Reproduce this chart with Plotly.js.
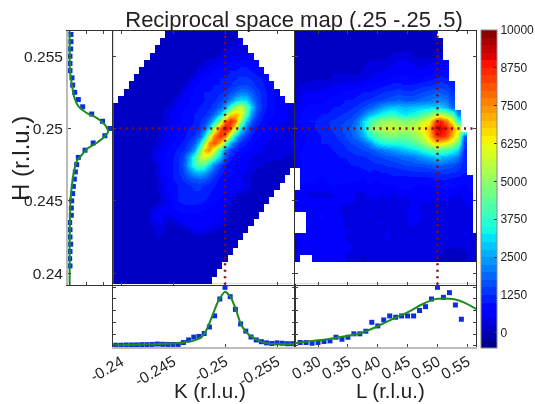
<!DOCTYPE html>
<html><head><meta charset="utf-8">
<script src="https://cdn.plot.ly/plotly-3.0.1.min.js"></script>
<style>html,body{margin:0;padding:0;background:#fff}#plot{width:535px;height:404px;filter:blur(0.45px)}</style>
</head><body><div id="plot"></div>
<script>
const _ = null;
const kValues = [-0.2395,-0.2400,-0.2405,-0.2410,-0.2415,-0.2420,-0.2425,-0.2430,-0.2435,-0.2440,-0.2445,-0.2450,-0.2455,-0.2460,-0.2465,-0.2470,-0.2475,-0.2480,-0.2485,-0.2490,-0.2495,-0.2500,-0.2505,-0.2510,-0.2515,-0.2520,-0.2525,-0.2530,-0.2535,-0.2540,-0.2545,-0.2550,-0.2555,-0.2560,-0.2565];
const hValues = [0.2565,0.2560,0.2555,0.2550,0.2545,0.2540,0.2535,0.2530,0.2525,0.2520,0.2515,0.2510,0.2505,0.2500,0.2495,0.2490,0.2485,0.2480,0.2475,0.2470,0.2465,0.2460,0.2455,0.2450,0.2445,0.2440,0.2435,0.2430,0.2425,0.2420,0.2415,0.2410,0.2405,0.2400,0.2395];
const lValues = [0.265,0.275,0.285,0.295,0.305,0.315,0.325,0.335,0.345,0.355,0.365,0.375,0.385,0.395,0.405,0.415,0.425,0.435,0.445,0.455,0.465,0.475,0.485,0.495,0.505,0.515,0.525,0.535,0.545,0.555,0.565];

// Intensity read from the map, in hundreds of counts; _ marks cells that were not measured
const hkMap = [
[_,_,_,_,_,_,_,_,_,_,1,1,1,1,1,1,1,1,1,1,2,2,2,2],
[_,_,_,_,_,_,_,_,_,1,1,1,0,0,1,1,1,1,1,1,2,2,2,3,3],
[_,_,_,_,_,_,_,_,1,1,1,1,1,1,1,1,1,1,2,2,2,3,3,4,4,4],
[_,_,_,_,_,_,_,1,1,1,1,1,1,1,1,1,1,1,2,2,3,4,5,5,6,6,6],
[_,_,_,_,_,_,1,1,1,1,1,1,1,1,1,1,2,3,4,5,6,7,8,8,9,9,8,7],
[_,_,_,_,_,1,1,1,1,1,1,1,1,1,1,2,4,6,7,8,8,9,10,10,11,11,10,9,8],
[_,_,_,_,1,1,1,1,1,1,1,1,1,1,2,5,7,8,8,9,10,10,11,12,13,13,12,11,10,8],
[_,_,_,1,1,1,1,1,1,1,1,1,1,2,5,7,8,9,9,10,10,11,12,14,15,15,14,12,11,9,8],
[_,_,1,1,1,1,1,1,1,1,1,1,2,5,6,8,9,10,10,11,12,13,15,18,20,20,17,14,12,10,8,7],
[_,1,1,1,1,1,1,1,1,1,1,3,5,6,7,9,9,10,11,12,14,17,21,28,32,30,22,16,12,10,8,7,6],
[1,1,1,1,1,1,1,1,1,1,3,5,6,7,8,9,10,11,12,14,18,25,38,52,58,45,30,18,13,10,8,7,6,5,4],
[1,1,1,1,1,1,1,1,1,3,5,6,7,8,9,10,11,12,14,19,28,45,65,70,64,42,24,15,11,9,8,7,6,5,4],
[1,1,1,1,1,1,1,1,1,2,4,6,7,8,9,10,12,14,20,32,52,78,88,78,52,28,17,12,10,8,7,6,5,5,4],
[1,1,1,1,1,1,1,1,2,4,6,7,8,9,10,11,13,18,30,55,80,92,82,58,34,20,13,10,8,7,6,5,4,4,4],
[1,1,1,1,1,1,1,1,2,4,6,7,8,9,11,13,17,30,55,78,86,78,52,30,19,13,10,8,7,6,5,3,3,4,5],
[1,1,1,1,1,1,1,2,3,5,7,8,9,11,13,17,28,52,76,82,70,44,26,17,12,10,8,7,6,5,3,3,4,5,6],
[1,1,1,1,1,1,1,3,5,6,8,9,11,12,15,24,44,70,74,58,36,21,14,11,9,8,7,6,5,4,3,3,4,4,4],
[1,1,1,1,1,1,1,3,6,7,9,10,12,15,24,38,54,60,54,40,28,16,11,8,7,6,5,4,3,3,3,3,3,2,2],
[1,1,1,1,1,1,1,1,4,7,9,10,12,16,26,38,44,40,30,20,14,10,8,7,6,5,4,3,3,2,2,1,1,1,2],
[1,1,1,1,1,1,1,1,4,7,9,10,12,15,20,26,28,26,20,15,11,9,8,7,6,5,3,2,1,1,1,1,1,1],
[1,1,1,1,1,1,1,1,3,6,8,10,11,13,15,17,18,17,14,11,9,8,7,6,5,3,2,1,1,1,1,1,1],
[1,1,1,1,1,1,1,1,2,5,8,9,10,11,12,13,13,12,11,10,9,8,7,6,6,5,2,1,1,1,1,1],
[1,1,1,1,1,1,1,1,2,4,7,8,10,11,11,12,12,11,10,9,8,7,6,4,2,1,1,1,1,1,1],
[1,1,1,1,1,1,1,1,1,3,6,8,10,11,11,11,11,10,9,8,7,6,3,1,1,1,1,1,1,1],
[1,1,1,1,1,1,1,3,5,6,7,8,8,9,9,9,8,8,7,6,6,5,2,1,1,1,1,1,1],
[1,1,1,1,1,1,2,5,6,5,4,6,7,7,7,7,7,6,6,6,6,4,1,1,1,1,1,1],
[1,1,1,1,1,1,1,4,5,5,2,2,4,6,6,6,6,6,6,6,6,3,1,1,1,1,1],
[1,1,1,1,1,1,1,1,4,3,1,1,1,1,3,5,5,5,4,3,1,1,1,1,1,1],
[1,1,1,1,1,1,1,1,3,2,1,1,1,1,1,1,1,1,1,1,1,1,1,1,1],
[1,1,1,1,1,1,1,1,1,1,1,1,1,1,1,1,1,1,1,1,1,1,1,1],
[1,1,1,1,1,1,1,1,1,1,1,1,1,1,1,1,1,1,1,1,1,1,1],
[1,1,1,1,1,1,1,1,1,1,1,1,1,1,1,1,1,1,1,1,1,1],
[1,1,1,1,1,1,1,1,1,1,1,1,1,1,1,1,1,1,1,1,1],
[1,1,1,1,1,1,1,1,1,1,1,1,1,1,1,1,1,1,1,1],
[1,1,1,1,1,1,1,1,1,1,1,1,1,1,1,1,1,1,1]
];
const hlMap = [
[2,2,2,2,2,2,2,2,2,2,2,2,2,2,2,2,2,2,2,2,2,2,2,2],
[2,2,2,2,2,2,2,2,2,2,2,2,2,2,2,2,2,2,2,2,2,2,2,2,2],
[2,2,2,2,2,2,2,2,2,2,2,2,2,2,2,2,2,2,2,2,2,2,2,2,2],
[2,2,2,2,2,2,2,2,2,2,2,2,2,2,2,2,3,4,4,3,2,2,2,2,3],
[2,2,2,2,2,2,2,2,2,2,2,2,3,3,3,4,5,6,6,5,4,4,5,5,6,6],
[2,2,2,2,2,2,2,2,2,2,2,3,3,4,5,5,6,7,7,7,6,6,6,7,8,8],
[2,2,2,2,2,2,3,4,4,3,3,4,5,6,6,7,8,8,8,7,7,8,9,10,11,10],
[2,3,3,4,4,4,5,5,6,6,6,7,8,8,9,10,11,11,10,10,11,12,12,13,14,13,11],
[3,5,5,5,6,6,7,7,8,8,9,10,10,11,12,13,13,14,13,13,14,15,16,17,17,16,13],
[4,6,7,7,7,8,8,9,10,10,11,12,13,14,15,16,17,18,17,17,18,19,20,21,22,20,15],
[5,7,8,8,8,9,10,10,11,12,13,15,17,20,24,27,28,28,27,28,29,29,30,30,30,26,18],
[6,8,9,9,10,10,11,12,13,14,16,20,26,30,34,36,38,34,32,34,36,42,46,52,54,50,42,22],
[7,9,10,10,11,12,13,14,15,16,20,30,38,44,50,52,52,50,48,50,52,58,62,82,88,78,62,36],
[6,8,9,10,11,12,13,15,16,18,22,30,42,52,54,56,56,54,54,54,58,64,70,90,92,88,78,60],
[5,7,8,9,10,11,12,13,15,17,20,26,34,40,44,46,48,46,46,48,52,58,68,84,88,84,70,56,18],
[5,7,8,9,10,10,11,12,13,15,16,18,22,30,34,36,36,36,38,40,44,50,58,66,66,62,56,44,14],
[6,8,9,9,9,9,10,11,12,13,14,15,16,18,20,22,24,26,28,30,32,36,40,42,42,40,36,30,12],
[7,9,9,8,8,8,9,10,10,11,12,12,13,14,15,16,17,18,19,20,22,24,26,28,28,26,24,20,11],
[6,8,8,8,8,8,8,9,9,10,10,11,11,12,12,13,13,14,15,15,16,16,17,18,18,17,16,14,11],
[_,8,10,9,8,8,8,8,8,9,9,9,10,9,10,10,11,11,11,12,12,12,12,13,13,13,13,12,10],
[_,8,8,8,7,8,8,8,8,9,8,7,9,8,8,9,9,9,9,9,9,9,9,10,10,10,9,9,8,9],
[_,7,7,7,7,7,8,7,7,6,7,6,7,6,7,7,7,8,8,8,7,7,7,8,8,8,8,8,7,8],
[7,6,4,4,4,4,5,5,6,6,4,4,6,6,5,6,4,6,6,6,6,6,6,7,7,7,6,4,6,7],
[7,7,6,6,6,6,5,6,5,6,3,3,4,5,4,4,3,5,3,5,5,5,5,4,5,4,4,4,5,6],
[7,7,7,6,6,6,5,5,4,4,3,3,3,3,3,3,3,3,4,6,6,3,3,3,3,3,3,4,4,5],
[_,_,7,7,8,7,6,5,5,4,3,4,4,3,3,4,3,3,5,7,7,4,3,3,3,3,3,3,3,4],
[_,_,8,6,7,6,6,6,4,4,4,3,4,5,5,5,3,3,3,6,5,3,3,3,3,3,3,3,3,3],
[_,_,7,6,6,6,5,5,5,5,4,4,4,4,4,5,3,3,3,3,3,3,3,3,3,3,3,4,5,3],
[5,6,6,6,6,7,7,6,5,4,4,3,4,3,4,6,4,3,3,3,4,4,3,3,3,3,3,3,5,4,3],
[4,6,7,6,6,7,7,6,6,5,5,4,4,4,4,4,4,3,3,3,3,3,3,3,3,3,3,3,4,3,3],
[5,5,6,6,6,6,6,6,5,5,4,3,3,3,4,4,3,3,3,3,3,3,3,3,3,2,2,2,2,3,3],
[5,_,_,6,6,7,6,5,5,4,3,2,3,3,3,3,3,3,3,3,3,3,3,3,2,2,2,2,2,3,3],
[],[],[]
];

// Line scans
const kScanK = kValues;
const kScanI = [0.05,0.05,0.07,0.07,0.08,0.1,0.1,0.12,0.15,0.13,0.12,0.12,0.12,0.28,0.5,0.74,0.8,1.05,1.6,2.55,3.98,4.97,4.18,3.1,1.86,1.25,0.75,0.5,0.35,0.25,0.2,0.25,0.22,0.18,0.18];
const kFitK = [-0.2392,-0.2443,-0.2462,-0.2472,-0.2478,-0.2483,-0.2488,-0.2493,-0.25,-0.2505,-0.251,-0.2515,-0.252,-0.2525,-0.2531,-0.2538,-0.2551,-0.2567];
const kFitI = [0.05,0.17,0.3,0.5,0.8,1.5,2.6,3.7,4.6,4.2,3.2,1.9,1.2,0.8,0.5,0.25,0.15,0.15];

const lScanL = [0.27,0.28,0.29,0.30,0.31,0.32,0.33,0.34,0.35,0.36,0.37,0.38,0.39,0.40,0.41,0.42,0.43,0.44,0.45,0.46,0.47,0.48,0.49,0.50,0.51,0.52,0.53,0.54];
const lScanI = [0.28,0.28,0.22,0.28,0.37,0.42,0.73,0.56,0.73,1.02,1.02,1.24,2.0,1.69,2.2,2.54,2.43,2.54,2.54,2.54,3.0,3.33,3.98,4.97,4.12,4.52,3.47,2.26];
const lFitL = [0.2614,0.281,0.309,0.343,0.371,0.399,0.427,0.449,0.472,0.494,0.511,0.528,0.545,0.566];
const lFitI = [0.22,0.37,0.51,0.79,1.07,1.64,2.34,2.82,3.47,3.95,4.03,3.95,3.67,3.1];

const hScanH = hValues.slice(0,33);
const hScanI = [0.08,0.08,0.06,0.02,0.02,0.02,0.14,0.18,0.3,0.52,0.78,1.32,1.97,2.41,2.11,1.41,0.92,0.52,0.42,0.34,0.28,0.22,0.18,0.12,0.1,0.1,0,0.02,0.02,0.06,0.02,0,0.02];
const hFitH = [0.25672,0.2551,0.25396,0.25315,0.25223,0.25154,0.25107,0.25073,0.25026,0.2498,0.24946,0.249,0.24865,0.24808,0.24773,0.24704,0.24611,0.2452,0.24381,0.24222,0.2392];
const hFitI = [0,0,0.02,0.12,0.26,0.52,1.02,1.62,2.11,2.31,2.11,1.62,1.11,0.66,0.42,0.26,0.14,0.06,0.02,0,0];

const peakH = 0.25, peakK = -0.25, peakL = 0.5;
const colorbarTicks = [0,1250,2500,3750,5000,6250,7500,8750,10000];
const kTicks = [-0.24,-0.245,-0.25,-0.255];
const kTickText = ['-0.24','-0.245','-0.25','-0.255'];
const lTicks = [0.30,0.35,0.40,0.45,0.50,0.55];
const lTickText = ['0.30','0.35','0.40','0.45','0.50','0.55'];
const hTicks = [0.24,0.245,0.25,0.255];
const hTickText = ['0.24','0.245','0.25','0.255'];

const W = 535, H = 404;
const px = (a,b) => [a/W, b/W];
const py = (t,b) => [1-b/H, 1-t/H];

function jet(t){
  const seg = (pts) => { for(let i=1;i<pts.length;i++){ if(t<=pts[i][0]){ const a=pts[i-1],b=pts[i]; return a[1]+(b[1]-a[1])*(t-a[0])/(b[0]-a[0]); } } return pts[pts.length-1][1]; };
  const r = seg([[0,0],[.35,0],[.66,1],[.89,1],[1,.5]]);
  const g = seg([[0,0],[.125,0],[.375,1],[.64,1],[.91,0],[1,0]]);
  const b = seg([[0,.5],[.11,1],[.34,1],[.65,0],[1,0]]);
  return 'rgb('+Math.round(r*255)+','+Math.round(g*255)+','+Math.round(b*255)+')';
}
const bands = 42, stepped = [];
for(let i=0;i<bands;i++){ const c=jet((i+.5)/bands); stepped.push([i/bands,c]); stepped.push([(i+1)/bands,c]); }

// Smooth layer: unmeasured cells take the nearest measured value of their row, and stay hidden under the white mask.
function filled(map, n){
  let prev = null;
  return map.map(row => {
    const known = []; for(let j=0;j<n;j++) if(row[j]!=null) known.push(j);
    if(!known.length) return prev;
    prev = Array.from({length:n}, (_v,j) => {
      let best = known[0];
      for(const q of known) if(Math.abs(q-j)<Math.abs(best-j)) best=q;
      return row[best]*100;
    });
    return prev;
  });
}
const maskOf = (map, n) => map.map(row => Array.from({length:n}, (_v,j) => row[j]==null ? 1 : null));

const zRange = {zmin:-500, zmax:10000, colorscale:stepped, zsmooth:'best', hoverinfo:'skip'};
const maskStyle = {zmin:0, zmax:1, colorscale:[[0,'#ffffff'],[1,'#ffffff']], zsmooth:false, showscale:false, hoverinfo:'skip'};
const dotted = {color:'#860c0c', width:2.5, dash:'2px,4.5px'};
const green = {color:'#1c8c22', width:2, shape:'spline', smoothing:0.6};
const squares = {symbol:'square', size:5, color:'#0b2fe0'};

const font = "'Liberation Sans', Arial, sans-serif";
const traces = [
 Object.assign({type:'heatmap', x:kValues, y:hValues, z:filled(hkMap,kValues.length), xaxis:'x', yaxis:'y', showscale:true,
   colorbar:{x:481/W, xanchor:'left', xpad:0, y:1-189/H, yanchor:'middle', ypad:0, lenmode:'pixels', len:318, thickness:16,
     outlinecolor:'#888', outlinewidth:1, tickvals:colorbarTicks, ticks:'inside', ticklen:3, tickcolor:'#333', tickfont:{size:12,color:'#222',family:font}, tickformat:'d'}}, zRange),
 Object.assign({type:'heatmap', x:kValues, y:hValues, z:maskOf(hkMap,kValues.length), xaxis:'x', yaxis:'y'}, maskStyle),
 Object.assign({type:'heatmap', x:lValues, y:hValues, z:filled(hlMap,lValues.length), xaxis:'x2', yaxis:'y2', showscale:false}, zRange),
 Object.assign({type:'heatmap', x:lValues, y:hValues, z:maskOf(hlMap,lValues.length), xaxis:'x2', yaxis:'y2'}, maskStyle),
 {type:'scatter',mode:'lines',x:[peakK,peakK],y:[0.2392,0.2567],xaxis:'x',yaxis:'y',line:dotted,showlegend:false,hoverinfo:'skip'},
 {type:'scatter',mode:'lines',x:[-0.2392,-0.2568],y:[peakH,peakH],xaxis:'x',yaxis:'y',line:dotted,showlegend:false,hoverinfo:'skip'},
 {type:'scatter',mode:'lines',x:[peakL,peakL],y:[0.2392,0.2567],xaxis:'x2',yaxis:'y2',line:dotted,showlegend:false,hoverinfo:'skip'},
 {type:'scatter',mode:'lines',x:[0.2614,0.5645],y:[peakH,peakH],xaxis:'x2',yaxis:'y2',line:dotted,showlegend:false,hoverinfo:'skip'},
 {type:'scatter',mode:'markers',x:hScanI,y:hScanH,xaxis:'x3',yaxis:'y3',marker:squares,showlegend:false,hoverinfo:'skip',cliponaxis:false},
 {type:'scatter',mode:'lines',x:hFitI,y:hFitH,xaxis:'x3',yaxis:'y3',line:green,showlegend:false,hoverinfo:'skip'},
 {type:'scatter',mode:'markers',x:kScanK,y:kScanI,xaxis:'x4',yaxis:'y4',marker:squares,showlegend:false,hoverinfo:'skip'},
 {type:'scatter',mode:'lines',x:kFitK,y:kFitI,xaxis:'x4',yaxis:'y4',line:green,showlegend:false,hoverinfo:'skip'},
 {type:'scatter',mode:'markers',x:lScanL,y:lScanI,xaxis:'x5',yaxis:'y5',marker:squares,showlegend:false,hoverinfo:'skip'},
 {type:'scatter',mode:'lines',x:lFitL,y:lFitI,xaxis:'x5',yaxis:'y5',line:green,showlegend:false,hoverinfo:'skip'}
];

const frame = {showgrid:false, zeroline:false, showline:true, linecolor:'#333', linewidth:1, mirror:'allticks', ticks:'inside', ticklen:3, tickcolor:'#444', tickwidth:1};
const kRange = [-0.23923,-0.25673], lRange = [0.2614,0.5645], hRange = [0.23918,0.25674], iRange = [-0.1,5.17], sideRange = [-0.1,2.6];
const tickFont = {size:15.5, color:'#222', family:font};
const labelFont = {size:20.5, color:'#222', family:font};
const label = (text,x,y,extra) => Object.assign({text, xref:'paper', yref:'paper', x:x/W, y:1-y/H, xanchor:'center', yanchor:'middle', showarrow:false, font:labelFont}, extra||{});
const layout = {
  width:W, height:H, margin:{l:0,r:0,t:0,b:0,autoexpand:false}, paper_bgcolor:'#fff', plot_bgcolor:'#fff', showlegend:false,
  font:{family:font},
  title:{text:'Reciprocal space map (.25 -.25 .5)', x:294/W, xanchor:'center', xref:'paper', y:1-19/H, yref:'paper', yanchor:'middle', font:{size:22,color:'#222',family:font}},
  annotations:[
    label('H (r.l.u.)',20,159,{textangle:-90, font:{size:24,color:'#222',family:font}}),
    label('K (r.l.u.)',210,390),
    label('L (r.l.u.)',390,390)
  ],
  xaxis: Object.assign({},frame,{domain:px(113,295), range:kRange, anchor:'y', tickvals:kTicks, showticklabels:false}),
  yaxis: Object.assign({},frame,{domain:py(31,285), range:hRange, anchor:'x', tickvals:hTicks, showticklabels:false}),
  xaxis2:Object.assign({},frame,{domain:px(295,476), range:lRange, anchor:'y2', tickvals:lTicks, showticklabels:false}),
  yaxis2:Object.assign({},frame,{domain:py(31,285), range:hRange, anchor:'x2', tickvals:hTicks, showticklabels:false}),
  xaxis3:Object.assign({},frame,{domain:px(68,113), range:sideRange, anchor:'y3', dtick:1, tick0:0, showticklabels:false}),
  yaxis3:Object.assign({},frame,{domain:py(31,285), range:hRange, anchor:'x3', mirror:false, linecolor:'#bbb', linewidth:2, tickvals:hTicks, ticktext:hTickText, tickfont:tickFont, ticklabelstandoff:0}),
  xaxis4:Object.assign({},frame,{domain:px(113,295), range:kRange, anchor:'y4', mirror:false, linecolor:'#bbb', linewidth:2, tickvals:kTicks, ticktext:kTickText, tickangle:-30, tickfont:tickFont, ticklabelstandoff:-2}),
  yaxis4:Object.assign({},frame,{domain:py(285,347), range:iRange, anchor:'x4', dtick:1, tick0:0, showticklabels:false}),
  xaxis5:Object.assign({},frame,{domain:px(295,476), range:lRange, anchor:'y5', mirror:false, linecolor:'#bbb', linewidth:2, tickvals:lTicks, ticktext:lTickText, tickangle:-30, tickfont:tickFont, ticklabelstandoff:-2}),
  yaxis5:Object.assign({},frame,{domain:py(285,347), range:iRange, anchor:'x5', dtick:1, tick0:0, showticklabels:false})
};
Plotly.newPlot('plot', traces, layout, {displayModeBar:false, staticPlot:true});
</script></body></html>
